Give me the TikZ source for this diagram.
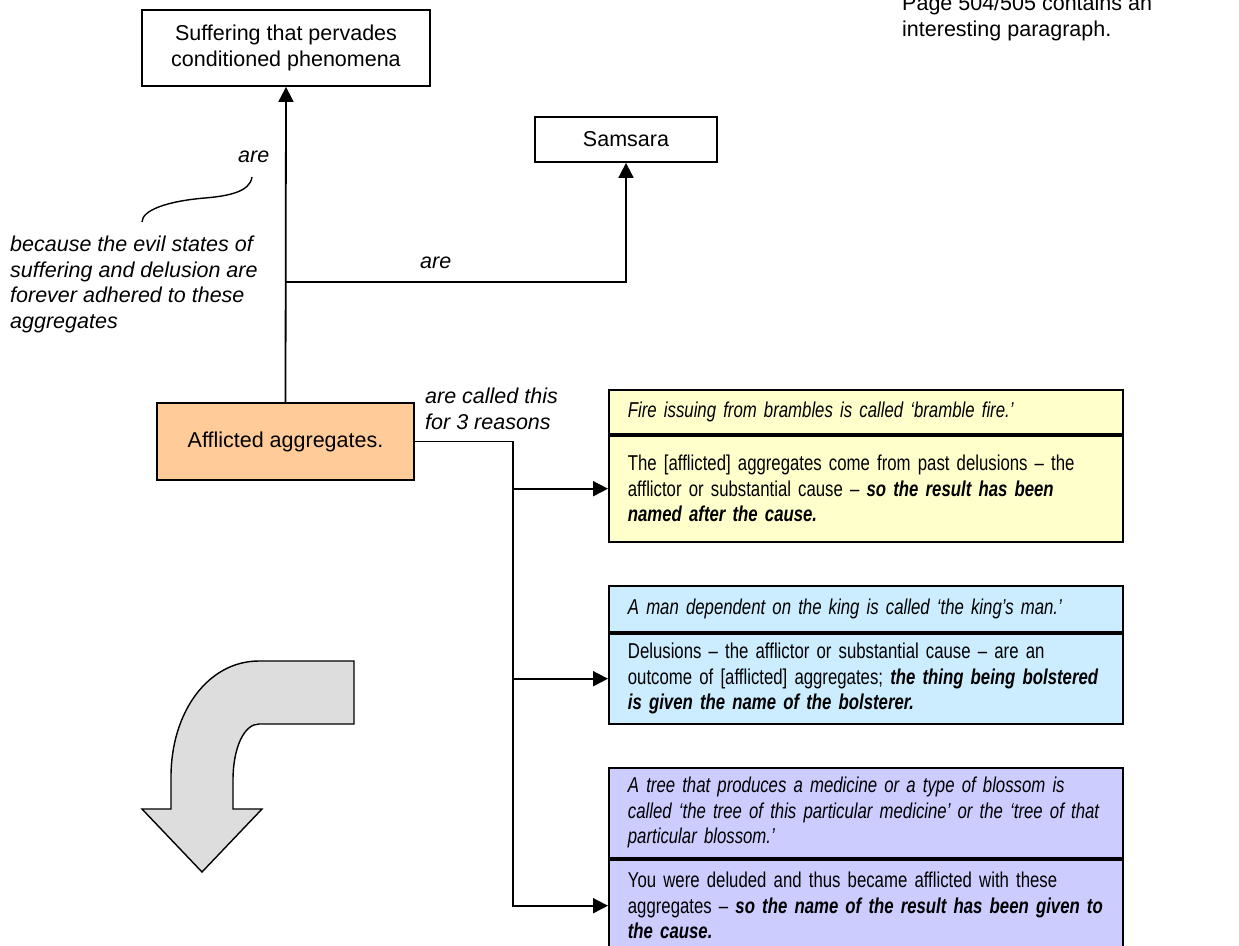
\documentclass[tikz,border=0pt]{standalone}
\usepackage{fontspec}
\setmainfont{Liberation Sans}
\newfontfamily\narrowfont[FakeStretch=0.78, Ligatures=TeX]{Liberation Sans}
\usetikzlibrary{arrows.meta}
\definecolor{ybox}{HTML}{FFFFCC}
\definecolor{bbox}{HTML}{CCECFF}
\definecolor{pbox}{HTML}{CCCCFF}
\definecolor{obox}{HTML}{FFCC99}
\definecolor{gbox}{HTML}{DDDDDD}
\newcommand{\bi}[1]{\textbf{\textit{#1}}}
\newcommand{\oneline}[1]{\mbox{#1}}
\begin{document}
\begin{tikzpicture}[x=1pt,y=-1pt,
  every node/.style={font=\fontsize{21.5}{25.5}\selectfont, inner sep=0pt},
  box/.style={draw, line width=1.8pt, align=center},
  part/.style={draw, line width=1.8pt, anchor=north west, text width=476pt, inner xsep=19pt, minimum width=514pt, align=left, font=\fontsize{21.5}{25.5}\selectfont\narrowfont},
  lbl/.style={font=\fontsize{21.5}{25.5}\selectfont\itshape, align=left},
  arr/.style={line width=1.8pt, -{Triangle[length=15pt,width=15pt]}},
  ln/.style={line width=1.8pt}]
\useasboundingbox (0,0) rectangle (1239,945);

% main boxes
\node[box, minimum width=288pt, minimum height=76pt] (suf) at (286,48) {Suffering that pervades\\conditioned phenomena};
\node[box, minimum width=182pt, minimum height=45pt] (sam) at (626,139.5) {Samsara};
\node[box, fill=obox, minimum width=257pt, minimum height=77pt] (aff) at (285.5,441.5) {Afflicted aggregates.};

% note top right (base = last line)
\node[align=left, anchor=base west] (note) at (902,36) {Page 504/505 contains an\\interesting paragraph.};

% labels
\node[lbl, anchor=base west] (are1) at (238,162) {are};
\node[lbl, anchor=base west] (because) at (10,328) {because the evil states of\\suffering and delusion are\\forever adhered to these\\aggregates};
\node[lbl, anchor=base west] (are2) at (420,268) {are};
\node[lbl, anchor=base west] (called) at (425,429) {are called this\\for 3 reasons};

% curved annotation line
\draw[line width=1.4pt] (252,177) .. controls (250,192) and (228,196) .. (205,198) .. controls (168,201) and (142,210) .. (142,222);

% explanation boxes
\node[part, fill=ybox, minimum height=44pt] (ytop) at (608,389) {\itshape\oneline{Fire issuing from brambles is called ‘bramble fire.’}};
\node[part, fill=ybox, minimum height=106pt] (ybot) at (ytop.south west) {\oneline{The [afflicted] aggregates come from past delusions – the}\\\oneline{afflictor or substantial cause – \bi{so the result has been}}\\\oneline{\bi{named after the cause.}}};

\node[part, fill=bbox, minimum height=46pt] (btop) at (608,585) {\itshape\oneline{A man dependent on the king is called ‘the king’s man.’}};
\node[part, fill=bbox, minimum height=90pt] (bbot) at (btop.south west) {\oneline{Delusions – the afflictor or substantial cause – are an}\\\oneline{outcome of [afflicted] aggregates; \bi{the thing being bolstered}}\\\oneline{\bi{is given the name of the bolsterer.}}};

\node[part, fill=pbox, minimum height=90pt] (ptop) at (608,767) {\itshape\oneline{A tree that produces a medicine or a type of blossom is}\\\oneline{called ‘the tree of this particular medicine’ or the ‘tree of that}\\\oneline{particular blossom.’}};
\node[part, fill=pbox, minimum height=92pt] (pbot) at (ptop.south west) {\oneline{You were deluded and thus became afflicted with these}\\\oneline{aggregates – \bi{so the name of the result has been given to}}\\\oneline{\bi{the cause.}}};

% connectors
\draw[arr] (aff.north) -- (suf.south);
\coordinate (k) at (aff.north |- 0,282);
\draw[arr] (k) -| (sam.south);
\coordinate (j) at (513,0);
\draw[arr] (aff.east) -| (j |- pbot.west) -- (pbot.west);
\draw[arr] (j |- ybot.west) -- (ybot.west);
\draw[arr] (j |- bbot.west) -- (bbot.west);

% grey bent arrow
\draw[line width=1.4pt, fill=gbox, line join=miter]
  (354,661) -- (259,661) .. controls (208,661) and (171,712) .. (171,777)
  -- (171,809) -- (142,809) -- (202,872) -- (262,809) -- (233,809) -- (233,780)
  .. controls (233,748) and (244,724) .. (259,724) -- (354,724) -- cycle;
\end{tikzpicture}
\end{document}
